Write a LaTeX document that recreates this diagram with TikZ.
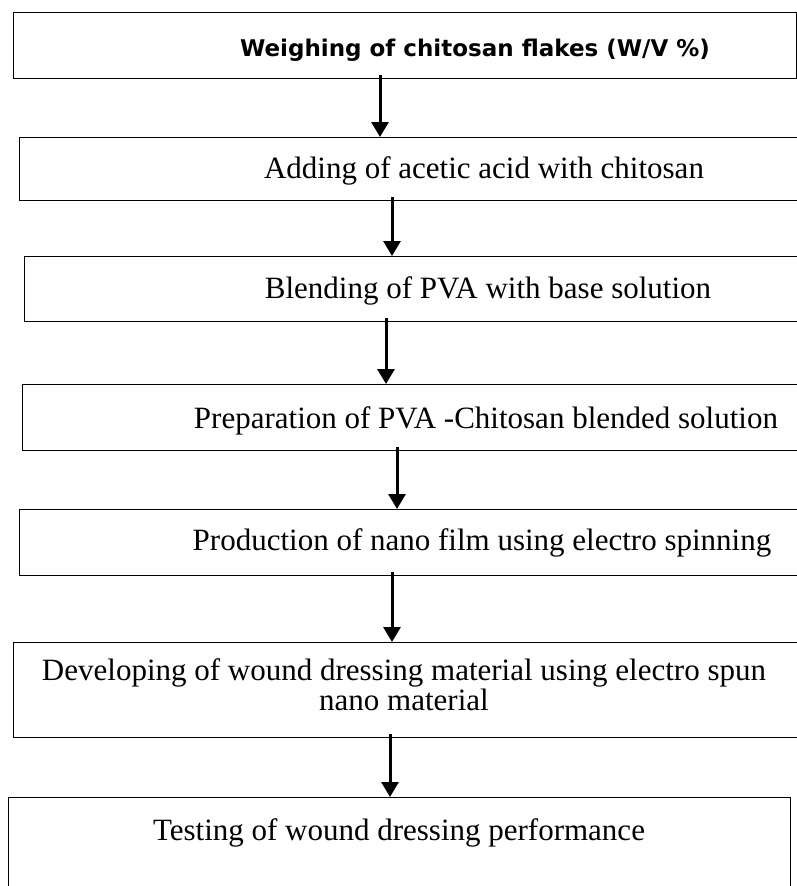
\documentclass[tikz,border=0pt]{standalone}
\usepackage{fontspec}
\setmainfont{Liberation Serif}
\newfontfamily\headfont{DejaVu Sans}
\usetikzlibrary{arrows.meta}

\begin{document}
\begin{tikzpicture}[x=1pt,y=-1pt,
  box/.style={draw, line width=1.3pt, inner sep=0pt, anchor=north west},
  steptext/.style={anchor=base, inner sep=0pt, align=center, font=\fontsize{31}{30}\selectfont},
  flow/.style={-{Triangle[width=17pt,length=15pt]}, line width=3pt, shorten <=-4pt}]
\useasboundingbox (0,0) rectangle (797,886);
\clip (0,0) rectangle (797,886);

\node[box, minimum width=783pt, minimum height=66pt] (b1) at (13,12) {};
\node[box, minimum width=800pt, minimum height=63pt] (b2) at (19,137) {};
\node[box, minimum width=800pt, minimum height=65pt] (b3) at (24,256) {};
\node[box, minimum width=800pt, minimum height=66pt] (b4) at (22,384) {};
\node[box, minimum width=800pt, minimum height=66pt] (b5) at (19,509) {};
\node[box, minimum width=800pt, minimum height=95pt] (b6) at (13,642) {};
\node[box, minimum width=782pt, minimum height=110pt] (b7) at (8,797) {};

\node[steptext, font=\headfont\bfseries\fontsize{23}{23}\selectfont] (t1) at (475,56) {Weighing of chitosan flakes (W/V \%)};
\node[steptext] (t2) at (484,178) {Adding of acetic acid with chitosan};
\node[steptext] (t3) at (488,298) {Blending of PVA with base solution};
\node[steptext] (t4) at (486,428) {Preparation of PVA -Chitosan blended solution};
\node[steptext] (t5) at (482,550) {Production of nano film using electro spinning};
\node[steptext] (t6) at (404,710) {Developing of wound dressing material using electro spun\\nano material};
\node[steptext] (t7) at (399,840) {Testing of wound dressing performance};

\draw[flow] (b1.south -| 380,0) -- (b2.north -| 380,0);
\draw[flow] (b2.south -| 392,0) -- (b3.north -| 392,0);
\draw[flow] (b3.south -| 386,0) -- (b4.north -| 386,0);
\draw[flow] (b4.south -| 397,0) -- (b5.north -| 397,0);
\draw[flow] (b5.south -| 392,0) -- (b6.north -| 392,0);
\draw[flow] (b6.south -| 390,0) -- (b7.north -| 390,0);
\end{tikzpicture}
\end{document}
